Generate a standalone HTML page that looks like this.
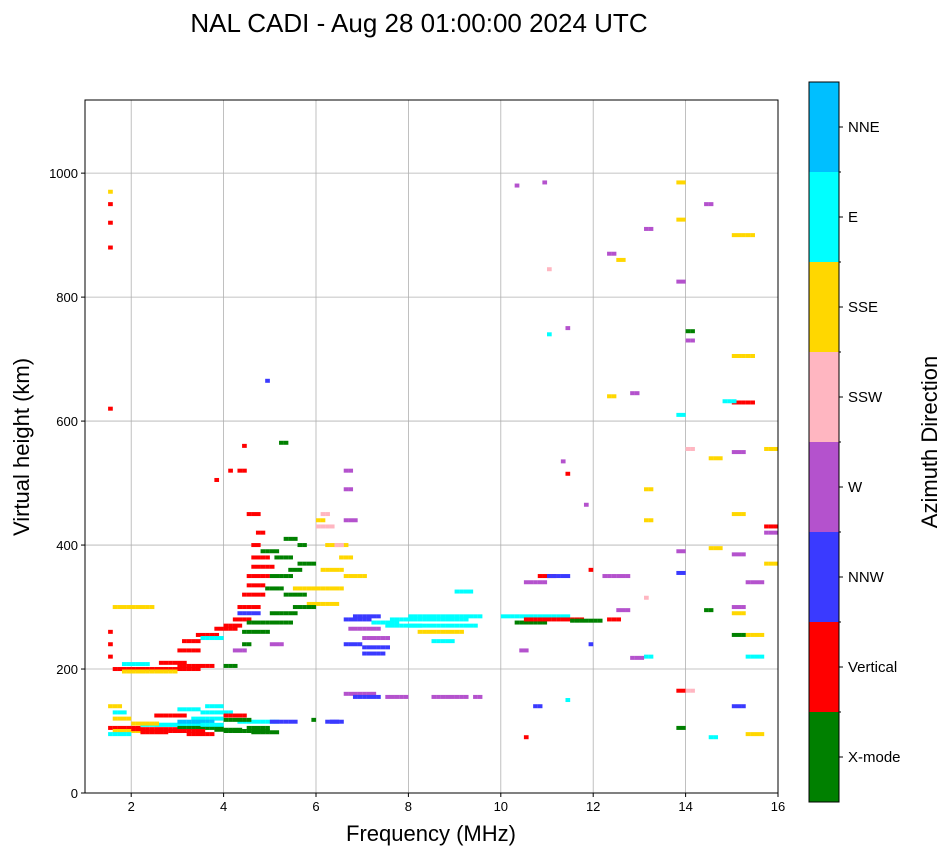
<!DOCTYPE html>
<html><head><meta charset="utf-8"><style>
body{margin:0;background:#fff;font-family:"Liberation Sans",sans-serif}
</style></head><body>
<svg id="c" width="951" height="856" xmlns="http://www.w3.org/2000/svg" font-family="Liberation Sans, sans-serif">
<text x="419" y="32" font-size="26" text-anchor="middle">NAL CADI - Aug 28 01:00:00 2024 UTC</text>
<g id="grid"></g><g id="marks"></g><g id="axes"></g><g id="cbar"></g>
<text x="431" y="841" font-size="22" text-anchor="middle">Frequency (MHz)</text>
<text transform="translate(29,447) rotate(-90)" font-size="22" text-anchor="middle">Virtual height (km)</text>
<text transform="translate(937,442) rotate(-90)" font-size="22" text-anchor="middle">Azimuth Direction</text>
</svg>
<script>
const xTicks=[2,4,6,8,10,12,14,16];
const yTicks=[0,200,400,600,800,1000];
const dirLabels=["X-mode","Vertical","NNW","W","SSW","SSE","E","NNE"];
const dirColors=["#008000","#ff0000","#3a3aff","#b452cd","#ffb6c1","#ffd700","#00ffff","#00bfff"];
const runStart=[1.5,1.6,2.0,2.5,3.0,3.3,3.5,3.8,4.0,4.3,4.5,5.0,2.8,3.0,2.2,1.6,4.0,6.2,5.9,1.6,1.8,3.0,1.6,1.5,1.5,1.5,3.1,3.4,3.8,4.2,4.3,4.4,4.5,4.6,4.7,4.5,4.3,4.4,4.1,3.8,4.5,5.0,5.3,5.4,5.6,5.2,4.9,5.8,6.0,6.1,6.2,6.0,6.6,6.5,6.0,6.1,6.4,6.6,6.6,6.6,6.6,6.7,6.6,7.0,7.0,7.2,7.6,8.0,8.2,8.5,8.0,6.6,7.5,8.5,9.4,6.8,6.3,10.0,10.3,10.5,11.5,10.8,10.5,11.0,11.9,12.2,12.3,12.5,10.3,10.9,12.3,12.5,13.1,13.8,13.8,13.8,14.4,15.0,14.0,14.0,15.0,15.0,14.8,13.8,12.3,12.8,15.7,15.0,14.0,14.5,13.1,13.1,15.0,15.7,15.7,13.8,14.5,15.0,15.7,15.3,13.8,14.4,15.0,15.0,15.3,15.0,15.3,13.1,12.8,13.8,14.0,13.8,14.5,15.0,15.3,11.4,10.7,10.5,11.9,10.4,1.5,1.5,1.5,1.5,1.5,4.9,11.0,11.0,11.4,11.3,11.4,11.8,13.1,
1.5,1.5,1.6,2.0,2.5,3.0,3.5,4.0,4.6,3.2,2.2,3.6,2.6,1.8,4.0,3.0,
3.5,4.0,4.4,4.3,4.5,4.6,4.8,5.0,5.1,5.3,4.6,5.5,5.5,5.6,4.4,4.2,5.0,
7.5,8.8,9.0,7.0,6.8];
const runEnd=[2.2,2.5,3.0,3.5,4.0,4.0,4.2,4.4,5.0,5.2,5.0,5.6,3.6,3.8,3.0,2.0,4.5,6.5,6.0,3.5,3.0,3.8,2.5,1.6,1.6,1.6,3.5,3.9,4.3,4.6,4.8,4.9,5.0,5.0,4.9,4.8,4.5,4.5,4.2,3.9,5.5,5.6,5.8,5.7,5.8,5.4,5.3,6.5,6.6,6.6,6.7,6.2,7.1,6.8,6.4,6.3,6.6,6.8,6.8,6.9,7.2,7.4,7.0,7.6,7.6,7.8,9.3,9.5,9.2,9.0,8.8,7.3,8.0,9.3,9.6,7.4,6.6,11.5,11.0,11.8,12.2,11.2,11.0,11.5,12.0,12.8,12.6,12.8,10.4,11.0,12.5,12.7,13.3,14.0,14.0,14.0,14.6,15.5,14.2,14.2,15.5,15.5,15.1,14.0,12.5,13.0,16.0,15.3,14.2,14.8,13.3,13.3,15.3,16.0,16.0,14.0,14.8,15.3,16.0,15.7,14.0,14.6,15.3,15.3,15.7,15.3,15.7,13.3,13.1,14.0,14.2,14.0,14.7,15.3,15.7,11.5,10.9,10.6,12.0,10.6,1.6,1.6,1.6,1.6,1.6,5.0,11.1,11.1,11.5,11.4,11.5,11.9,13.2,
2.0,1.8,1.9,2.6,3.2,3.5,4.0,4.6,5.2,3.8,2.8,4.0,3.2,2.4,4.3,3.5,
4.0,4.4,5.0,4.8,4.9,5.1,5.2,5.5,5.5,5.6,4.8,6.0,6.0,6.0,4.6,4.5,5.3,
8.3,9.6,9.4,7.5,7.4];
const runHeight=[105,100,103,110,105,120,130,102,100,115,105,115,100,115,110,120,125,115,118,200,196,205,300,260,240,220,245,255,265,280,300,320,350,380,420,450,520,560,520,505,275,290,320,360,400,565,330,305,330,360,400,440,350,380,430,450,400,520,490,440,280,265,240,235,250,275,280,270,260,245,285,160,155,155,155,155,115,285,275,280,278,350,340,350,360,350,280,295,980,985,870,860,910,985,925,825,950,900,745,730,705,630,632,610,640,645,555,550,555,540,490,440,450,430,420,390,395,385,370,340,355,295,300,290,255,255,220,220,218,165,165,105,90,140,95,150,140,90,240,230,620,880,920,950,970,665,845,740,750,535,515,465,315,
95,140,130,112,125,135,110,118,98,95,98,140,210,208,205,230,
250,270,260,290,335,365,390,350,380,410,400,300,330,370,240,230,240,
270,285,325,225,285];
const runDir=[1,5,1,6,0,6,6,0,0,6,0,2,1,7,6,5,1,2,0,1,5,1,5,1,1,1,1,1,1,1,1,1,1,1,1,1,1,1,1,1,0,0,0,0,0,0,0,5,5,5,5,5,5,5,4,4,4,3,3,3,2,3,2,2,3,6,6,6,5,6,6,3,3,3,3,2,2,6,0,1,0,1,3,2,1,3,1,3,3,3,3,5,3,5,5,3,3,5,0,3,5,1,6,6,5,3,5,3,4,5,5,5,5,1,3,3,5,3,5,3,2,0,3,5,5,0,6,6,3,1,4,0,6,2,5,6,2,1,2,3,1,1,1,1,5,2,4,6,3,3,1,3,4,
6,5,6,5,1,6,6,0,0,1,1,6,1,6,0,1,
6,1,0,2,1,1,0,0,0,0,1,0,5,0,0,3,3,
6,6,6,2,2];
const L=85,R=778,T=100,B=793,fMin=1,fMax=16,hMin=0,hMax=1118;
const xs=f=>L+(f-fMin)/(fMax-fMin)*(R-L);
const ys=h=>B-(h-hMin)/(hMax-hMin)*(B-T);
const NS="http://www.w3.org/2000/svg";
function mk(p,t,a){const e=document.createElementNS(NS,t);for(const k in a)e.setAttribute(k,a[k]);p.appendChild(e);return e;}
const grid=document.getElementById('grid'),marks=document.getElementById('marks'),axes=document.getElementById('axes'),cb=document.getElementById('cbar');
xTicks.forEach(v=>{const x=xs(v);
 const g=mk(grid,'line',{x1:x,x2:x,y1:T,y2:B,stroke:'#b0b0b0','stroke-width':0.8});
 
 
 mk(axes,'line',{x1:x,x2:x,y1:B,y2:B+4,stroke:'#000'});
 const t=mk(axes,'text',{x:x,y:B+18,'font-size':13,'text-anchor':'middle'});t.textContent=v;
 
 
});
yTicks.forEach(v=>{const y=ys(v);
 const g=mk(grid,'line',{x1:L,x2:R,y1:y,y2:y,stroke:'#b0b0b0','stroke-width':0.8});
 
 
 mk(axes,'line',{x1:L-4,x2:L,y1:y,y2:y,stroke:'#000'});
 const t=mk(axes,'text',{x:L-7,y:y+5,'font-size':13,'text-anchor':'end'});t.textContent=v;
 
 
});
const fr=mk(axes,'rect',{x:L,y:T,width:R-L,height:B-T,fill:'none',stroke:'#000','stroke-width':1});


for(let i=0;i<runStart.length;i++){
 for(let f=runStart[i];f<runEnd[i]-0.01||f===runStart[i];f+=0.1){
  const x0=xs(f);
  const r=mk(marks,'rect',{x:x0,y:ys(runHeight[i])-2,width:4.7,height:4,fill:dirColors[runDir[i]]});
  
  
 }
}
const cx=809,cw=30,cT=82,cB=802,n=dirLabels.length,seg=(cB-cT)/n;
dirLabels.forEach((lab,i)=>{const y0=cB-(i+1)*seg;
 const r=mk(cb,'rect',{x:cx,y:y0,width:cw,height:seg,fill:dirColors[i]});
 
 
 mk(cb,'line',{x1:cx+cw,x2:cx+cw+4,y1:y0+seg/2,y2:y0+seg/2,stroke:'#000'});
 if(i>0)mk(cb,'line',{x1:cx+cw,x2:cx+cw+2,y1:cB-i*seg,y2:cB-i*seg,stroke:'#000'});
 const t=mk(cb,'text',{x:cx+cw+9,y:y0+seg/2+5,'font-size':15});t.textContent=lab;
 
 
});
mk(cb,'rect',{x:cx,y:cT,width:cw,height:cB-cT,fill:'none',stroke:'#000','stroke-width':1});
</script>
</body></html>
